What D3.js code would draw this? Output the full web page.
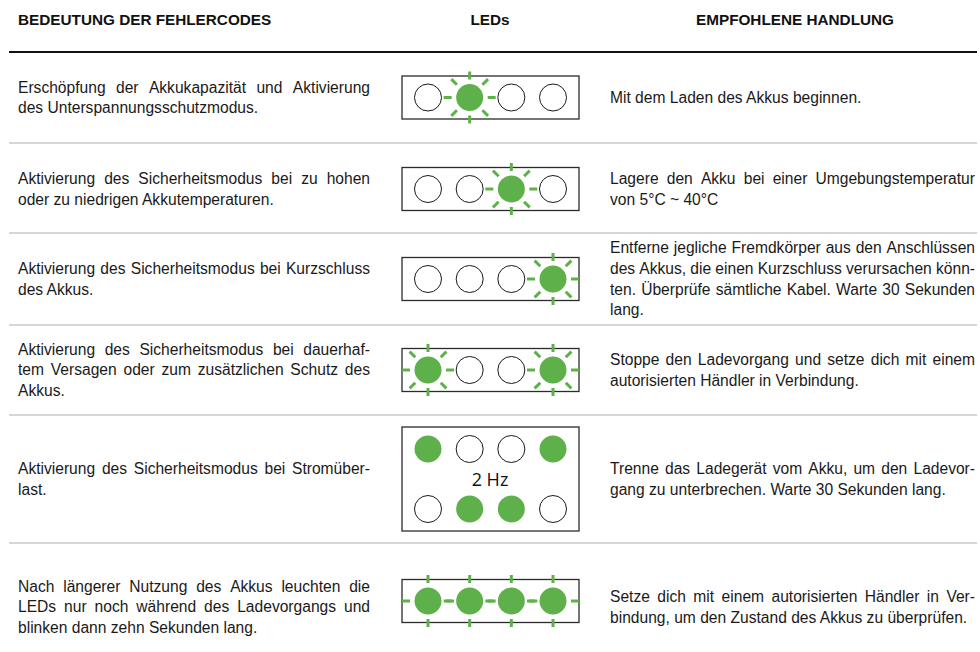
<!DOCTYPE html>
<html><head><meta charset="utf-8">
<script src="https://cdn.jsdelivr.net/npm/d3@7"></script>
<style>body{margin:0;background:#fff}</style></head>
<body><svg id="c" width="980" height="652"></svg>
<script>
// ---- data ----
const headers = ["BEDEUTUNG DER FEHLERCODES", "LEDs", "EMPFOHLENE HANDLUNG"];
const meanings = [
  ["Erschöpfung der Akkukapazität und Aktivierung", "des Unterspannungsschutzmodus."],
  ["Aktivierung des Sicherheitsmodus bei zu hohen", "oder zu niedrigen Akkutemperaturen."],
  ["Aktivierung des Sicherheitsmodus bei Kurzschluss", "des Akkus."],
  ["Aktivierung des Sicherheitsmodus bei dauerhaf-", "tem Versagen oder zum zusätzlichen Schutz des", "Akkus."],
  ["Aktivierung des Sicherheitsmodus bei Stromüber-", "last."],
  ["Nach längerer Nutzung des Akkus leuchten die", "LEDs nur noch während des Ladevorgangs und", "blinken dann zehn Sekunden lang."]
];
const actions = [
  ["Mit dem Laden des Akkus beginnen."],
  ["Lagere den Akku bei einer Umgebungstemperatur", "von 5°C ~ 40°C"],
  ["Entferne jegliche Fremdkörper aus den Anschlüssen", "des Akkus, die einen Kurzschluss verursachen könn-", "ten. Überprüfe sämtliche Kabel. Warte 30 Sekunden", "lang."],
  ["Stoppe den Ladevorgang und setze dich mit einem", "autorisierten Händler in Verbindung."],
  ["Trenne das Ladegerät vom Akku, um den Ladevor-", "gang zu unterbrechen. Warte 30 Sekunden lang."],
  ["Setze dich mit einem autorisierten Händler in Ver-", "bindung, um den Zustand des Akkus zu überprüfen."]
];
// LED states: off, on, blink (8 rays), flash (4 rays)
const ledPatterns = [
  [["off", "blink", "off", "off"]],
  [["off", "off", "blink", "off"]],
  [["off", "off", "off", "blink"]],
  [["blink", "off", "off", "blink"]],
  [["on", "off", "off", "on"], ["off", "on", "on", "off"]],
  [["flash", "flash", "flash", "flash"]]
];
const ledLabels = [null, null, null, null, "2 Hz", null];

// ---- layout ----
const FONT = "'Liberation Sans', Arial, sans-serif";
const FS = 15.6;
const LH = 20.7;
const separators = [143, 233, 325, 415, 543];
const rowCenters = [97.5, 189, 279, 370, 479, 601];
const textShift = [0, 0, 0, 0, 0, 6];
const leftCol = [18, 370], rightCol = [610, 975];
const green = "#5eb14a";

const svg = d3.select("#c");

// header
const hdr = svg.append("g").attr("font-family", FONT).attr("font-weight", "bold")
  .attr("font-size", 15.3).attr("fill", "#111");
hdr.append("text").attr("x", 18).attr("y", 25).text(headers[0]);
hdr.append("text").attr("x", 490).attr("y", 25).attr("text-anchor", "middle").text(headers[1]);
hdr.append("text").attr("x", 795).attr("y", 25).attr("text-anchor", "middle").text(headers[2]);

svg.append("line").attr("x1", 9).attr("x2", 977).attr("y1", 52).attr("y2", 52)
  .attr("stroke", "#111").attr("stroke-width", 2);
svg.selectAll("line.sep").data(separators).join("line").attr("class", "sep")
  .attr("x1", 9).attr("x2", 977).attr("y1", d => d).attr("y2", d => d)
  .attr("stroke", "#c9c9c9").attr("stroke-width", 1.5);

// measuring
const meas = svg.append("text").attr("font-family", FONT).attr("font-size", FS).attr("x", -1000).attr("y", -1000);
function wlen(s) { meas.text(s); return meas.node().getComputedTextLength(); }

function paragraph(lines, col, cy) {
  const g = svg.append("g").attr("font-family", FONT).attr("font-size", FS).attr("fill", "#1a1a1a");
  const top = cy - (lines.length - 1) * LH / 2;
  lines.forEach((ln, i) => {
    const y = top + i * LH + 5.4;
    const t = g.append("text").attr("y", y);
    const justify = i < lines.length - 1;
    const words = ln.split(" ");
    const full = wlen(ln);
    if (!justify || words.length < 2) {
      t.attr("x", col[0]).text(ln);
      if (full > col[1] - col[0]) t.attr("textLength", col[1] - col[0]).attr("lengthAdjust", "spacingAndGlyphs");
      return;
    }
    const widths = words.map(wlen);
    const total = d3.sum(widths);
    let gap = (col[1] - col[0] - total) / (words.length - 1);
    let sc = 1;
    if (gap < 2) { sc = (col[1] - col[0] - 2 * (words.length - 1)) / total; gap = 2; }
    let x = col[0];
    words.forEach((w, k) => {
      const ts = t.append("tspan").attr("x", x).text(w);
      if (sc < 1) ts.attr("textLength", widths[k] * sc).attr("lengthAdjust", "spacingAndGlyphs");
      x += widths[k] * sc + gap;
    });
  });
}

meanings.forEach((m, i) => paragraph(m, leftCol, rowCenters[i] + textShift[i]));
actions.forEach((a, i) => paragraph(a, rightCol, rowCenters[i] + textShift[i]));
meas.remove();

// LEDs
const xLed = d3.scalePoint().domain([0, 1, 2, 3]).range([428, 553]);
const R = 13.5;
const rays8 = d3.range(8).map(k => k * 45);
const rays4 = [0, 90, 180, 270];

ledPatterns.forEach((pat, i) => {
  const cy = rowCenters[i];
  const double = pat.length > 1;
  const boxH = double ? 104 : 43;
  const g = svg.append("g");
  g.append("rect").attr("x", 402).attr("y", cy - boxH / 2).attr("width", 177).attr("height", boxH)
    .attr("fill", "none").attr("stroke", "#2b2b2b").attr("stroke-width", 1.3);
  const rowYs = double ? [cy - 30, cy + 30] : [cy];
  pat.forEach((states, r) => {
    states.forEach((s, k) => {
      const x = xLed(k), y = rowYs[r];
      if (s === "off") {
        g.append("circle").attr("cx", x).attr("cy", y).attr("r", R)
          .attr("fill", "#fff").attr("stroke", "#1a1a1a").attr("stroke-width", 1);
      } else {
        const angs = s === "blink" ? rays8 : s === "flash" ? rays4 : [];
        angs.forEach(a => {
          const rad = a * Math.PI / 180;
          g.append("line")
            .attr("x1", x + 18 * Math.cos(rad)).attr("y1", y + 18 * Math.sin(rad))
            .attr("x2", x + 26 * Math.cos(rad)).attr("y2", y + 26 * Math.sin(rad))
            .attr("stroke", green).attr("stroke-width", 3);
        });
        g.append("circle").attr("cx", x).attr("cy", y).attr("r", R).attr("fill", green);
      }
    });
  });
  if (ledLabels[i]) {
    g.append("text").attr("x", 490).attr("y", cy + 6.5).attr("text-anchor", "middle")
      .attr("font-family", "'Open Sans', 'Noto Sans', sans-serif").attr("font-size", 18)
      .attr("fill", "#111").text(ledLabels[i]);
  }
});
</script></body></html>
